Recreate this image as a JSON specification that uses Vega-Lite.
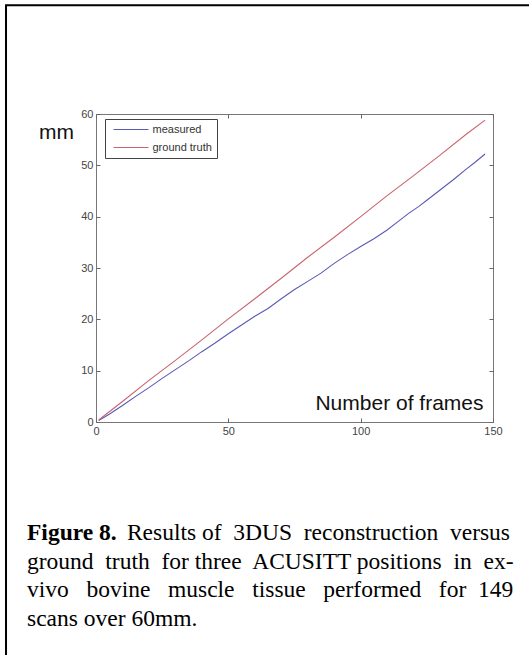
{
  "$schema": "https://vega.github.io/schema/vega-lite/v6.json",
  "width": 397,
  "height": 308,
  "autosize": {"type": "none"},
  "padding": {"left": 96, "top": 114, "right": 36, "bottom": 233},
  "background": "white",
  "config": {
    "view": {"stroke": "#777", "strokeWidth": 1},
    "axis": {"grid": false, "domain": false, "labelFont": "Liberation Sans", "labelFontSize": 11, "labelColor": "#444", "tickColor": "#666", "tickSize": -4, "labelPadding": 7}
  },
  "title": {
    "text": "Figure 8.",
    "subtitle": ["\u200b\u00a0\u00a0\u00a0\u00a0\u00a0\u00a0\u00a0\u00a0\u00a0\u00a0\u00a0\u00a0\u00a0\u00a0\u00a0\u00a0\u00a0Results of\u00a0 3DUS\u00a0 reconstruction\u00a0 versus", "ground\u00a0 truth\u00a0 for three\u00a0 ACUSITT positions\u00a0 in\u00a0 ex-", "vivo\u00a0\u00a0 bovine\u00a0\u00a0 muscle\u00a0\u00a0 tissue\u00a0\u00a0 performed\u00a0\u00a0 for\u00a0 149", "scans over 60mm."],
    "orient": "bottom",
    "anchor": "start",
    "frame": "group",
    "dx": -69,
    "offset": -143,
    "font": "Liberation Serif",
    "fontSize": 23.5,
    "fontWeight": "bold",
    "color": "black",
    "subtitleFont": "Liberation Serif",
    "subtitleFontSize": 23.5,
    "subtitleFontWeight": "normal",
    "subtitleColor": "black",
    "subtitleLineHeight": 28.5,
    "subtitlePadding": -23.5
  },
  "data": {
    "values": [
      {"frame": 1, "mm": 0.3, "series": "measured"},
      {"frame": 5, "mm": 1.5, "series": "measured"},
      {"frame": 10, "mm": 3.2, "series": "measured"},
      {"frame": 15, "mm": 5.0, "series": "measured"},
      {"frame": 20, "mm": 6.7, "series": "measured"},
      {"frame": 25, "mm": 8.5, "series": "measured"},
      {"frame": 30, "mm": 10.2, "series": "measured"},
      {"frame": 35, "mm": 11.9, "series": "measured"},
      {"frame": 40, "mm": 13.7, "series": "measured"},
      {"frame": 45, "mm": 15.4, "series": "measured"},
      {"frame": 50, "mm": 17.2, "series": "measured"},
      {"frame": 55, "mm": 18.9, "series": "measured"},
      {"frame": 60, "mm": 20.6, "series": "measured"},
      {"frame": 65, "mm": 22.1, "series": "measured"},
      {"frame": 70, "mm": 24.0, "series": "measured"},
      {"frame": 75, "mm": 25.8, "series": "measured"},
      {"frame": 80, "mm": 27.4, "series": "measured"},
      {"frame": 85, "mm": 29.0, "series": "measured"},
      {"frame": 90, "mm": 30.9, "series": "measured"},
      {"frame": 95, "mm": 32.6, "series": "measured"},
      {"frame": 100, "mm": 34.2, "series": "measured"},
      {"frame": 105, "mm": 35.7, "series": "measured"},
      {"frame": 110, "mm": 37.4, "series": "measured"},
      {"frame": 113, "mm": 38.6, "series": "measured"},
      {"frame": 118, "mm": 40.6, "series": "measured"},
      {"frame": 122, "mm": 42.0, "series": "measured"},
      {"frame": 125, "mm": 43.2, "series": "measured"},
      {"frame": 130, "mm": 45.2, "series": "measured"},
      {"frame": 135, "mm": 47.2, "series": "measured"},
      {"frame": 140, "mm": 49.3, "series": "measured"},
      {"frame": 143, "mm": 50.5, "series": "measured"},
      {"frame": 147, "mm": 52.2, "series": "measured"},
      {"frame": 1, "mm": 0.4, "series": "ground truth"},
      {"frame": 10, "mm": 4.0, "series": "ground truth"},
      {"frame": 20, "mm": 8.1, "series": "ground truth"},
      {"frame": 30, "mm": 12.0, "series": "ground truth"},
      {"frame": 40, "mm": 16.0, "series": "ground truth"},
      {"frame": 50, "mm": 20.1, "series": "ground truth"},
      {"frame": 60, "mm": 24.0, "series": "ground truth"},
      {"frame": 70, "mm": 28.0, "series": "ground truth"},
      {"frame": 80, "mm": 32.1, "series": "ground truth"},
      {"frame": 90, "mm": 36.0, "series": "ground truth"},
      {"frame": 100, "mm": 40.0, "series": "ground truth"},
      {"frame": 110, "mm": 44.1, "series": "ground truth"},
      {"frame": 120, "mm": 48.0, "series": "ground truth"},
      {"frame": 130, "mm": 52.0, "series": "ground truth"},
      {"frame": 140, "mm": 56.1, "series": "ground truth"},
      {"frame": 147, "mm": 58.8, "series": "ground truth"}
    ]
  },
  "resolve": {"axis": {"x": "independent", "y": "independent"}},
  "layer": [
    {
      "mark": {"type": "line", "strokeWidth": 1.1},
      "encoding": {
        "x": {"field": "frame", "type": "quantitative", "scale": {"domain": [0, 150], "nice": false},
          "axis": {"values": [0, 50, 100, 150], "labelFlush": false, "title": "Number of frames", "titleFont": "Liberation Sans", "titleFontSize": 21, "titleFontWeight": "normal", "titleColor": "#111", "titleX": 387, "titleY": -13, "titleAlign": "right", "titleBaseline": "alphabetic"}},
        "y": {"field": "mm", "type": "quantitative", "scale": {"domain": [0, 60], "nice": false},
          "axis": {"values": [0, 10, 20, 30, 40, 50, 60], "labelFlush": false, "title": "mm", "titleAngle": 0, "titleFont": "Liberation Sans", "titleFontSize": 21, "titleFontWeight": "normal", "titleColor": "#111", "titleX": -40, "titleY": 24, "titleAlign": "center", "titleBaseline": "alphabetic"}},
        "color": {"field": "series", "type": "nominal", "sort": ["measured", "ground truth"],
          "scale": {"domain": ["measured", "ground truth"], "range": ["#5a5ab4", "#c8646e"]},
          "legend": {"title": null, "orient": "none", "legendX": 9, "legendY": 5, "direction": "vertical", "fillColor": "white", "strokeColor": "#444", "padding": 5, "symbolType": "M-3.5,0H3.5", "symbolSize": 100, "symbolStrokeWidth": 1, "symbolOffset": 15.5, "labelOffset": 16, "labelFont": "Liberation Sans", "labelFontSize": 11, "labelColor": "#333", "rowPadding": 6}}
      }
    },
    {
      "mark": {"type": "line", "strokeOpacity": 0},
      "encoding": {
        "x": {"field": "frame", "type": "quantitative", "axis": {"orient": "top", "values": [0, 50, 100, 150], "labels": false, "title": null}},
        "y": {"field": "mm", "type": "quantitative", "axis": {"orient": "right", "values": [0, 10, 20, 30, 40, 50, 60], "labels": false, "title": null}},
        "detail": {"field": "series"}
      }
    },
    {
      "data": {"values": [{"frame": 0}]},
      "mark": {"type": "rect", "fill": null, "stroke": "black", "strokeWidth": 2, "clip": false},
      "encoding": {
        "x": {"datum": -34, "type": "quantitative", "axis": null},
        "x2": {"datum": 260},
        "y": {"datum": 81.2, "type": "quantitative", "axis": null},
        "y2": {"datum": -47}
      }
    }
  ]
}
